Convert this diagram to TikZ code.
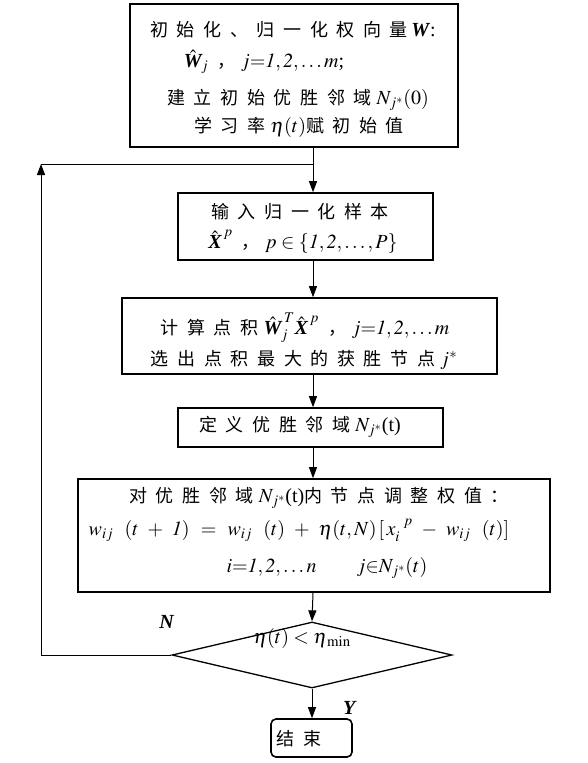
\documentclass[tikz,border=0pt]{standalone}
\usepackage{mathptmx}
\usepackage{amsmath}
\usepackage{fontspec}
\setmainfont{Liberation Serif}
\newfontfamily\cjk[Scale=0.9,LetterSpace=48]{Noto Sans CJK SC}
\usetikzlibrary{arrows.meta,shapes.geometric}
\newcommand\bW{\textbf{\textit{W}}}
\newcommand\bX{\textbf{\textit{X}}}
\begin{document}
\begin{tikzpicture}[x=1pt,y=-1pt, font=\fontsize{20}{24}\selectfont,
  box/.style={draw, line width=1.6pt, inner sep=0pt, rectangle},
  conn/.style={line width=1pt, -{Triangle[length=11pt,width=8pt]}},
  plain/.style={line width=1pt},
  txt/.style={inner sep=0pt, anchor=center}]
\useasboundingbox[fill=white] (0,0) rectangle (588,763);
% boxes
\node[box, minimum width=328pt, minimum height=143pt] (b1) at (294,75.5) {};
\node[box, minimum width=255pt, minimum height=67pt] (b2) at (305.5,226.5) {};
\node[box, minimum width=375pt, minimum height=76pt] (b3) at (309.5,336) {};
\node[box, minimum width=265pt, minimum height=39pt] (b4) at (310.5,427.5) {};
\node[box, minimum width=472pt, minimum height=113pt] (b5) at (314,535.5) {};
\node[draw, diamond, line width=1.3pt, minimum width=280pt, minimum height=66pt, inner sep=0pt] (d) at (312,655) {};
\node[box, rounded corners=5pt, minimum width=81pt, minimum height=38pt] (e) at (311.5,738) {};
% texts
\node[txt] (t11) at (293,30) {{\cjk 初始化、归一化权向量}\,\bW:};
\node[txt] (t12) at (264,62) {$\hat{\bW}_{\!j}$\;\,{\cjk ，}\;$j{=}\mathit{1},\mathit{2},\ldots m$;};
\node[txt] (t13) at (298,100) {{\cjk 建立初始优胜邻域} $N_{j^{*}}(0)$};
\node[txt] (t14) at (299,127) {{\cjk 学习率} $\eta(t)${\cjk 赋初始值}};
\node[txt] (t21) at (300,212) {\cjk 输入归一化样本};
\node[txt] (t22) at (303,242) {$\hat{\bX}^{\,p}$\;\,{\cjk ，}\;$p\in\{\mathit{1},\mathit{2},\ldots,P\}$};
\node[txt] (t31) at (305,328) {{\cjk 计算点积} $\hat{\bW}_{\!j}^{\,T}\hat{\bX}^{\,p}$\;\,{\cjk ，}\;$j{=}\mathit{1},\mathit{2},\ldots m$};
\node[txt] (t32) at (304,360) {{\cjk 选出点积最大的获胜节点} $j^{*}$};
\node[txt] (t41) at (300,427) {{\cjk 定义优胜邻域} $N_{j^{*}}$(t)};
\node[txt] (t51) at (319,498) {{\cjk 对优胜邻域} $N_{j^{*}}$(t){\cjk 内节点调整权值：}};
\node[txt] (t52) at (299,530) {\thickmuskip=10mu\medmuskip=8mu$w_{ij}\;(t+\mathit{1}) = w_{ij}\;(t) + \eta(t,N)\,[\,x_{i}^{\;p} - w_{ij}\;(t)]$};
\node[txt] (t53) at (327,568) {$i{=}\mathit{1},\mathit{2},\ldots n\qquad j{\in}N_{j^{*}}(t)$};
\node[txt] (td) at (302,638) {$\eta(t)\;{<}\;\eta_{\,\mathrm{min}}$};
\node[txt] (te) at (299,739) {\cjk 结束};
\node[txt] (lN) at (167,622) {\textbf{\textit{N}}};
\node[txt] (lY) at (350,708) {\textbf{\textit{Y}}};
% connectors
\coordinate (ax) at (313,0);
\coordinate (lc) at (41,164);
\coordinate (jn) at (313,164);
\draw[conn] (b1.south -| ax) -- (b2.north -| ax);
\draw[conn] (b2.south -| ax) -- (b3.north -| ax);
\draw[conn] (b3.south -| ax) -- (b4.north -| ax);
\draw[conn] (b4.south -| ax) -- (b5.north -| ax);
\draw[conn] (b5.south -| ax) -- (d.north);
\draw[conn] (d.south) -- (e.north -| d.south);
\draw[conn] (d.west) -| (lc);
\draw[plain] (lc) -- (jn);
\end{tikzpicture}
\end{document}
